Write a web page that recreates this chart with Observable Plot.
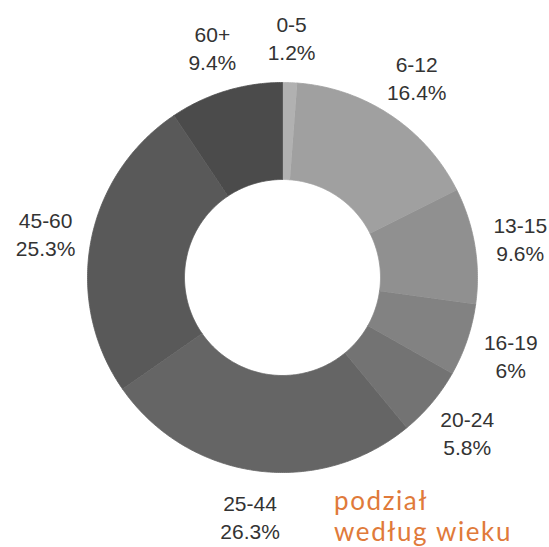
<!DOCTYPE html>
<html>
<head>
<meta charset="utf-8">
<script src="https://cdn.jsdelivr.net/npm/d3@7"></script>
<script src="https://cdn.jsdelivr.net/npm/@observablehq/plot@0.6"></script>
<style>
  html, body { margin: 0; padding: 0; background: #fff; }
  #wrap { position: relative; width: 549px; height: 547px; }
  .note { position: absolute; left: 334px; font-family: Lato, "Open Sans", sans-serif; font-weight: 400;
          font-size: 26px; line-height: 31px; letter-spacing: 1.6px; color: #e07a3a; white-space: nowrap; }
</style>
</head>
<body>
<div id="wrap"><div class="note" style="top:485px">podział</div><div class="note" style="top:516px">według wieku</div></div>
<script>
const categories = ["0-5", "6-12", "13-15", "16-19", "20-24", "25-44", "45-60", "60+"];
const values = [1.2, 16.4, 9.6, 6, 5.8, 26.3, 25.3, 9.4];
const percentLabels = ["1.2%", "16.4%", "9.6%", "6%", "5.8%", "26.3%", "25.3%", "9.4%"];
const colors = ["#b1b1b1", "#a0a0a0", "#909090", "#828282", "#737373", "#656565", "#595959", "#4b4b4b"];

const W = 549, H = 547;
const cx = 282, cy = 277, rOuter = 195, rInner = 98, rLabel = 241;

const pie = d3.pie().sort(null).value(d => d)(values);

const pts = [];
pie.forEach((p, i) => {
  const n = Math.max(4, Math.ceil((p.endAngle - p.startAngle) / 0.01));
  for (let k = 0; k <= n; k++) {
    const a = p.startAngle + (p.endAngle - p.startAngle) * k / n;
    pts.push({cat: categories[i], x: cx + rOuter * Math.sin(a), y: cy - rOuter * Math.cos(a)});
  }
  for (let k = n; k >= 0; k--) {
    const a = p.startAngle + (p.endAngle - p.startAngle) * k / n;
    pts.push({cat: categories[i], x: cx + rInner * Math.sin(a), y: cy - rInner * Math.cos(a)});
  }
});

const labels = pie.map((p, i) => {
  const a = (p.startAngle + p.endAngle) / 2;
  return {text: categories[i] + "\n" + percentLabels[i], x: cx + rLabel * Math.sin(a), y: cy - rLabel * Math.cos(a)};
});

const chart = Plot.plot({
  width: W, height: H,
  margin: 0,
  x: {domain: [0, W], range: [0, W], axis: null},
  y: {domain: [0, H], range: [0, H], axis: null},
  color: {domain: categories, range: colors},
  style: {background: "#fff"},
  marks: [
    Plot.line(pts, {x: "x", y: "y", z: "cat", fill: "cat", stroke: "cat", strokeWidth: 0.8}),
    Plot.text(labels, {x: "x", y: "y", text: "text", fontSize: 21, lineHeight: 1.33,
      fill: "#333", fontFamily: "Liberation Sans, Arial, sans-serif"})
  ]
});
document.getElementById("wrap").prepend(chart);
chart.style.display = "block";
</script>
</body>
</html>
